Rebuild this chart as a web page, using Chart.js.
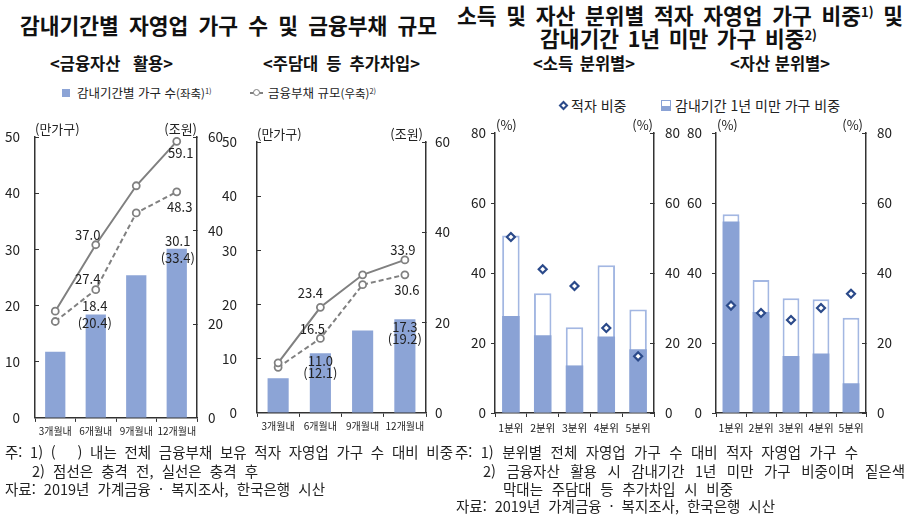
<!DOCTYPE html>
<html lang="ko">
<head>
<meta charset="utf-8">
<script src="https://cdn.jsdelivr.net/npm/chart.js@4.4.1/dist/chart.umd.min.js"></script>
<style>
  html, body { margin: 0; padding: 0; background: #fff; }
  body { width: 911px; height: 524px; position: relative; overflow: hidden;
         font-family: "Noto Sans CJK KR", "Noto Sans", sans-serif; color: #111; }
  .t { position: absolute; white-space: nowrap; line-height: 1; transform: translateY(-50%); }
  .j { text-align: justify; text-align-last: justify; white-space: normal; }
  .title { font-weight: 700; font-size: 21.5px; }
  .sub { font-weight: 700; font-size: 16.5px; }
  .lg { font-size: 12.5px; color: #222; }
  .lg2 { font-size: 14px; color: #222; }
  .note { font-size: 14.5px; color: #222; }
  .box { position: absolute; }
  canvas { position: absolute; }
  sup { font-size: 0.6em; vertical-align: 0.55em; line-height: 0; }
</style>
</head>
<body>

<div class="t title j" style="left:20px; top:25px; width:417px">감내기간별 자영업 가구 수 및 금융부채 규모</div>
<div class="t title j" style="left:457px; top:15px; width:446px">소득 및 자산 분위별 적자 자영업 가구 비중<sup>1)</sup> 및</div>
<div class="t title j" style="left:540px; top:38px; width:277px">감내기간 1년 미만 가구 비중<sup>2)</sup></div>

<div class="t sub j" style="left:50px; top:63px; width:123px">&lt;금융자산 활용&gt;</div>
<div class="t sub j" style="left:263px; top:63px; width:157px">&lt;주담대 등 추가차입&gt;</div>
<div class="t sub j" style="left:533px; top:63px; width:102px">&lt;소득 분위별&gt;</div>
<div class="t sub j" style="left:730px; top:63px; width:100px">&lt;자산 분위별&gt;</div>

<!-- legends -->
<div class="box" style="left:62px; top:89px; width:8px; height:8px; background:#8CA4D6"></div>
<div class="t lg" style="left:77px; top:93px">감내기간별 가구 수<span style="font-size:11.5px">(좌축)</span><sup>1)</sup></div>
<div class="box" style="left:250px; top:92px; width:13px; height:2px; background:#808080"></div>
<div class="box" style="left:252.5px; top:89px; width:5px; height:5px; border:1.5px solid #808080; border-radius:50%; background:#fff"></div>
<div class="t lg" style="left:268px; top:93px">금융부채 규모<span style="font-size:11.5px">(우축)</span><sup>2)</sup></div>

<div class="box" style="left:560px; top:102px; width:3px; height:3px; border:2px solid #2B4A8A; background:#fff; transform:rotate(45deg)"></div>
<div class="t lg2" style="left:571px; top:105px">적자 비중</div>
<div class="box" style="left:661px; top:100px; width:8px; height:9px; border:1px solid #8AA2D5; background:linear-gradient(#fff 50%, #8AA2D5 50%)"></div>
<div class="t lg2" style="left:675px; top:105px">감내기간 1년 미만 가구 비중</div>

<canvas id="p1" width="225" height="335" style="left:0px; top:110px"></canvas>
<canvas id="p2" width="240" height="335" style="left:215px; top:110px"></canvas>
<canvas id="p3" width="230" height="335" style="left:455px; top:110px"></canvas>
<canvas id="p4" width="231" height="335" style="left:680px; top:110px"></canvas>

<!-- notes -->
<div class="t note j" style="left:5px; top:452px; width:448px">주: 1) (　) 내는 전체 금융부채 보유 적자 자영업 가구 수 대비 비중</div>
<div class="t note j" style="left:32px; top:471px; width:226px">2) 점선은 충격 전, 실선은 충격 후</div>
<div class="t note j" style="left:5px; top:489px; width:320px">자료: 2019년 가계금융 · 복지조사, 한국은행 시산</div>

<div class="t note j" style="left:455px; top:452px; width:403px">주: 1) 분위별 전체 자영업 가구 수 대비 적자 자영업 가구 수</div>
<div class="t note j" style="left:483px; top:471px; width:422px">2) 금융자산 활용 시 감내기간 1년 미만 가구 비중이며 짙은색</div>
<div class="t note j" style="left:503px; top:489px; width:230px">막대는 주담대 등 추가차입 시 비중</div>
<div class="t note j" style="left:456px; top:506px; width:319px">자료: 2019년 가계금융 · 복지조사, 한국은행 시산</div>

<script>
// 감내기간별 (만가구 / 조원)
const periodLabels = ['3개월내', '6개월내', '9개월내', '12개월내'];

const assetHouseholds = [11.8, 18.4, 25.4, 30.1];
const assetHouseholdShare = [null, 20.4, null, 33.4];
const assetDebtAfter = [22.8, 37.0, 49.6, 59.1];
const assetDebtBefore = [20.6, 27.4, 43.8, 48.3];

const loanHouseholds = [6.4, 11.0, 15.2, 17.3];
const loanHouseholdShare = [null, 12.1, null, 19.2];
const loanDebtAfter = [11.1, 23.4, 30.6, 33.9];
const loanDebtBefore = [10.1, 16.5, 28.4, 30.6];

// 분위별 (%)
const quintileLabels = ['1분위', '2분위', '3분위', '4분위', '5분위'];

const incomeDeficitShare = [50.3, 41.1, 36.3, 24.3, 16.2];
const incomeAssetUnder1y = [50.7, 34.2, 24.5, 42.2, 29.6];
const incomeLoanUnder1y = [27.7, 22.2, 13.6, 21.9, 18.2];

const wealthDeficitShare = [30.7, 28.6, 26.6, 30.0, 34.1];
const wealthAssetUnder1y = [56.8, 38.0, 32.8, 32.5, 27.2];
const wealthLoanUnder1y = [54.7, 28.9, 16.3, 17.0, 8.5];

const FONT = '"Noto Sans CJK KR", "Noto Sans", sans-serif';
const GRAY = '#808080';
const BAR = '#8CA4D6';
const AXIS = '#333';

Chart.defaults.font.family = FONT;
Chart.defaults.color = '#222';
Chart.defaults.animation = false;

// value labels next to selected points/bars
const valueLabels = {
  id: 'valueLabels',
  afterDatasetsDraw(chart) {
    const ctx = chart.ctx;
    chart.data.datasets.forEach((ds, i) => {
      if (!ds.labelOffsets) return;
      const meta = chart.getDatasetMeta(i);
      ctx.save();
      ctx.font = '13px ' + FONT;
      ctx.fillStyle = '#222';
      ctx.textAlign = 'center';
      ctx.textBaseline = 'middle';
      Object.entries(ds.labelOffsets).forEach(([idx, off]) => {
        const el = meta.data[idx];
        const lines = [ds.data[idx].toFixed(1)];
        if (ds.shares) lines.push('(' + ds.shares[idx].toFixed(1) + ')');
        lines.forEach((txt, k) => {
          ctx.fillText(txt, el.x + off[0], el.y + off[1] + k * (ds.lineGap || 0));
        });
      });
      ctx.restore();
    });
  }
};

// unit captions above both y axes
const unitLabels = {
  id: 'unitLabels',
  afterDraw(chart, args, opts) {
    const { ctx, chartArea: a } = chart;
    ctx.save();
    ctx.font = '13px ' + FONT;
    ctx.fillStyle = '#222';
    ctx.textBaseline = 'middle';
    ctx.textAlign = 'left';
    ctx.fillText(opts.left, a.left + (opts.dxLeft || 0), a.top - opts.dy);
    ctx.textAlign = 'right';
    ctx.fillText(opts.right, a.right - (opts.dxRight || 0), a.top - opts.dy);
    ctx.restore();
  }
};

function yScale(pos, max, step, width, tick, pad) {
  return {
    position: pos,
    min: 0,
    max: max,
    ticks: { stepSize: step, padding: pad, font: { size: 13.5 }, color: '#222' },
    grid: { drawOnChartArea: false, drawTicks: true, tickLength: tick, color: AXIS },
    border: { display: true, color: AXIS, width: 1.5 },
    afterFit: s => { s.width = width; }
  };
}

function xScale(height, size, pad) {
  return {
    offset: true,
    ticks: { font: { size: size }, color: '#222', padding: pad, maxRotation: 0, autoSkip: false },
    grid: { drawOnChartArea: false, drawTicks: true, tickLength: 4, offset: true, color: AXIS },
    border: { display: true, color: AXIS, width: 1.5 },
    afterFit: s => { s.height = height; }
  };
}

function debtChart(id, households, shares, after, before, s) {
  return new Chart(document.getElementById(id), {
    type: 'bar',
    data: {
      labels: periodLabels,
      datasets: [
        {
          type: 'line', data: after, yAxisID: 'y2', order: 0,
          borderColor: GRAY, borderWidth: 2,
          pointRadius: 3.5, pointBackgroundColor: '#fff', pointBorderColor: GRAY, pointBorderWidth: 1.8,
          labelOffsets: s.afterLabels
        },
        {
          type: 'line', data: before, yAxisID: 'y2', order: 0,
          borderColor: GRAY, borderWidth: 2, borderDash: [5, 3],
          pointRadius: 3.5, pointBackgroundColor: '#fff', pointBorderColor: GRAY, pointBorderWidth: 1.8,
          labelOffsets: s.beforeLabels
        },
        {
          data: households, yAxisID: 'y', order: 1,
          backgroundColor: BAR, barPercentage: 0.5, categoryPercentage: 1,
          shares: shares, labelOffsets: s.barLabels, lineGap: s.lineGap
        }
      ]
    },
    options: {
      responsive: false,
      layout: { padding: { top: 17, left: 0, right: 0, bottom: 0 } },
      plugins: {
        legend: { display: false },
        tooltip: { enabled: false },
        unitLabels: { left: '(만가구)', right: '(조원)', dy: 8, dxRight: s.unitDx }
      },
      scales: {
        x: xScale(25, 10, 3),
        y: yScale('left', 50, 10, s.yW, -4, s.yPad),
        y2: yScale('right', 60, 20, s.y2W, -4, s.y2Pad)
      }
    },
    plugins: [valueLabels, unitLabels]
  });
}

function shareChart(id, deficit, assetShare, loanShare, s) {
  return new Chart(document.getElementById(id), {
    type: 'bar',
    data: {
      labels: quintileLabels,
      datasets: [
        {
          type: 'line', data: deficit, yAxisID: 'y', order: 0, showLine: false,
          pointStyle: 'rectRot', pointRadius: 4, pointBackgroundColor: '#fff',
          pointBorderColor: '#2B4A8A', pointBorderWidth: 2.2
        },
        {
          data: loanShare, yAxisID: 'y', order: 1, grouped: false,
          backgroundColor: '#8AA2D5', barPercentage: s.barPct, categoryPercentage: 1
        },
        {
          data: assetShare, yAxisID: 'y', order: 2, grouped: false,
          backgroundColor: '#fff', borderColor: '#A3B7E2', borderWidth: 2,
          barPercentage: s.barPct, categoryPercentage: 1
        }
      ]
    },
    options: {
      responsive: false,
      layout: { padding: { top: 23, left: 0, right: 0, bottom: 0 } },
      plugins: {
        legend: { display: false },
        tooltip: { enabled: false },
        unitLabels: { left: '(%)', right: '(%)', dy: 8, dxLeft: 1, dxRight: s.unitDx }
      },
      scales: {
        x: xScale(32, 10.5, 5),
        y: yScale('left', 80, 20, s.yW, 4, s.yPad),
        y2: yScale('right', 80, 20, s.y2W, -4, 15)
      }
    },
    plugins: [unitLabels]
  });
}

debtChart('p1', assetHouseholds, assetHouseholdShare, assetDebtAfter, assetDebtBefore, {
  yW: 35, y2W: 28, yPad: 19, y2Pad: 15, unitDx: 0, lineGap: 17,
  afterLabels: { 1: [-8, -10], 3: [4, 12] },
  beforeLabels: { 1: [-8, -11], 3: [3, 15] },
  barLabels: { 1: [-1, -9], 3: [1, -8] }
});

debtChart('p2', loanHouseholds, loanHouseholdShare, loanDebtAfter, loanDebtBefore, {
  yW: 42, y2W: 29, yPad: 24, y2Pad: 13, unitDx: 3, lineGap: 12,
  afterLabels: { 1: [-10, -14], 3: [-2, -10] },
  beforeLabels: { 1: [-8, -9], 3: [2, 15] },
  barLabels: { 1: [0, 7.5], 3: [0, 8] }
});

shareChart('p3', incomeDeficitShare, incomeAssetUnder1y, incomeLoanUnder1y, {
  yW: 40, y2W: 31, yPad: 5, unitDx: 1, barPct: 0.55
});

shareChart('p4', wealthDeficitShare, wealthAssetUnder1y, wealthLoanUnder1y, {
  yW: 36, y2W: 45, yPad: 10, unitDx: 3, barPct: 0.56
});
</script>
</body>
</html>
